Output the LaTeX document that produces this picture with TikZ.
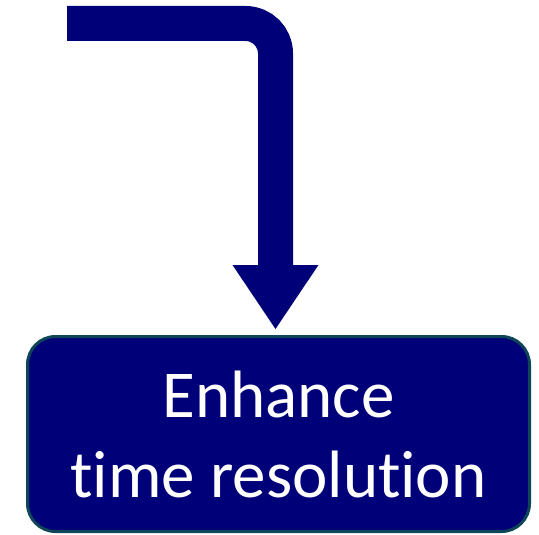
\documentclass[tikz,border=0pt]{standalone}
\usepackage{fontspec}
\setmainfont{Carlito}[Ligatures=NoCommon]
\usetikzlibrary{arrows.meta}
\definecolor{navyfill}{RGB}{0,0,120}
\definecolor{tealline}{RGB}{14,70,88}

\begin{document}
\begin{tikzpicture}[
  x=1pt, y=-1pt,
  box/.style={draw=tealline, line width=3pt, fill=navyfill, rounded corners=28pt, minimum width=502pt, minimum height=195pt, align=center, text=white, font=\fontsize{67}{80}\selectfont},
  arrow/.style={-{Triangle[width=86pt, length=64pt, line width=0pt]}, draw=navyfill, line width=35pt, rounded corners=30pt, shorten >=6pt}
]
  \useasboundingbox (0,0) rectangle (539,535);
  \node[box] (task) at (278.5,434) {Enhance\\ time resolution};
  \coordinate (from) at (67,23.5);

  \draw[arrow] (from) -| ([xshift=-3pt]task.north);
\end{tikzpicture}
\end{document}
